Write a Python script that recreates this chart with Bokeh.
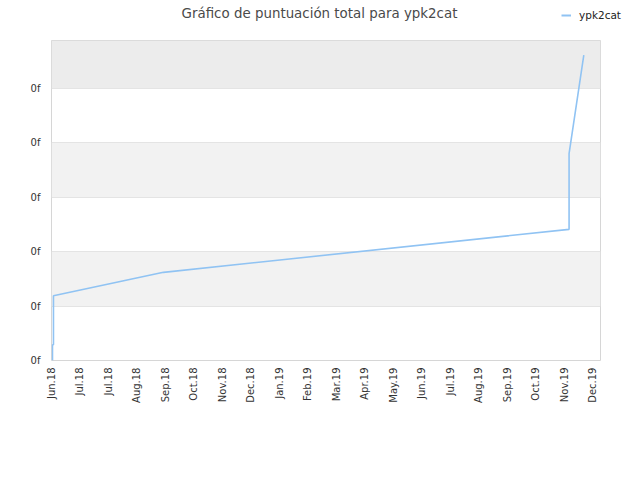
import math
import pandas as pd
from bokeh.plotting import figure
from bokeh.layouts import column, row
from bokeh.models import FixedTicker, Range1d, BoxAnnotation, Label, Legend, LegendItem
from bokeh.embed import file_html
from bokeh.resources import INLINE

title_text = "Gráfico de puntuación total para ypk2cat"
series_name = "ypk2cat"

# series
dates = ["2018-06-03", "2018-06-03", "2018-06-04", "2018-06-04",
         "2018-09-24", "2019-11-11", "2019-11-11", "2019-11-26"]
scores = [0.0, 0.29, 0.29, 1.19, 1.62, 2.41, 3.80, 5.61]

# x axis ticks
origin_date = "2018-06-02"
end_date = "2019-12-13"
tick_dates = ["2018-06-02", "2018-07-01", "2018-07-30", "2018-08-28", "2018-09-26",
              "2018-10-25", "2018-11-23", "2018-12-22", "2019-01-20", "2019-02-18",
              "2019-03-19", "2019-04-17", "2019-05-16", "2019-06-14", "2019-07-13",
              "2019-08-11", "2019-09-09", "2019-10-08", "2019-11-06", "2019-12-05"]
tick_labels = ["Jun.18", "Jul.18", "Jul.18", "Aug.18", "Sep.18", "Oct.18", "Nov.18",
               "Dec.18", "Jan.19", "Feb.19", "Mar.19", "Apr.19", "May.19", "Jun.19",
               "Jul.19", "Aug.19", "Sep.19", "Oct.19", "Nov.19", "Dec.19"]

# y axis ticks
y_ticks = [0, 1, 2, 3, 4, 5]
y_tick_labels = ["0f", "0f", "0f", "0f", "0f", "0f"]
y_max = 5.88

origin = pd.Timestamp(origin_date)
xs = [(pd.Timestamp(d) - origin).days for d in dates]
x_ticks = [(pd.Timestamp(d) - origin).days for d in tick_dates]
x_end = (pd.Timestamp(end_date) - origin).days

FONT = "DejaVu Sans"
TXT = "#333333"
LINE_COLOR = "#90c3f3"
W = 632
HEAD_H = 32
MAIN_H = 440
LEFT = 51

# ---------- header: title + legend ----------
head = figure(width=W, height=HEAD_H, output_backend="svg", toolbar_location=None,
              x_range=Range1d(0, W), y_range=Range1d(HEAD_H, 0),
              x_axis_location=None, y_axis_location=None,
              min_border=0, min_border_left=0, min_border_right=0,
              min_border_top=0, min_border_bottom=0)
head.outline_line_color = None
head.xgrid.visible = False
head.ygrid.visible = False
head.background_fill_color = "white"
head.border_fill_color = "white"

head.add_layout(Label(x=319, y=12.5, x_units="screen", y_units="data",
                      text=title_text, text_align="center", text_baseline="middle",
                      text_font=FONT, text_font_size="13.4px", text_color="#4a4a4a"))

# legend proxy: same series, drawn off-screen in the header, only its legend icon shows
legend_proxy = head.line(xs[:2], [-100, -100], line_color=LINE_COLOR, line_width=2)
legend = Legend(items=[LegendItem(label=series_name, renderers=[legend_proxy])],
                location=(561, 11), orientation="horizontal")
legend.border_line_alpha = 0
legend.background_fill_alpha = 0
legend.padding = 0
legend.margin = 0
legend.glyph_width = 10
legend.glyph_height = 12
legend.label_height = 12
legend.label_standoff = 8
legend.label_text_font = FONT
legend.label_text_font_size = "10.5px"
legend.label_text_color = "#222222"
head.add_layout(legend)

# ---------- main plot ----------
p = figure(width=W, height=MAIN_H, output_backend="svg", toolbar_location=None,
           x_range=Range1d(0, x_end), y_range=Range1d(0, y_max),
           min_border_left=LEFT, min_border_right=32, min_border_top=8,
           min_border_bottom=112)
p.outline_line_color = "#d6d6d6"
p.background_fill_color = "white"
p.border_fill_color = "white"

# alternating bands
for i, t in enumerate(y_ticks):
    if i % 2 == 1:
        top = y_ticks[i + 1] if i + 1 < len(y_ticks) else None
        color = "#f2f2f2" if top is not None else "#ececec"
        p.add_layout(BoxAnnotation(bottom=t, top=top, fill_color=color, fill_alpha=1.0,
                                   line_alpha=0, level="image"))

r = p.line(xs, scores, line_color=LINE_COLOR, line_width=1.6)

p.xgrid.visible = False
p.ygrid.grid_line_color = "#e4e4e4"

p.xaxis.ticker = FixedTicker(ticks=x_ticks)
p.xaxis.major_label_overrides = {k: v for k, v in zip(x_ticks, tick_labels)}
p.xaxis.major_label_orientation = math.pi / 2
p.yaxis.ticker = FixedTicker(ticks=y_ticks)
p.yaxis.major_label_overrides = {k: v for k, v in zip(y_ticks, y_tick_labels)}

for ax in (p.xaxis[0], p.yaxis[0]):
    ax.axis_line_color = None
    ax.major_tick_line_color = None
    ax.minor_tick_line_color = None
    ax.major_tick_out = 0
    ax.major_tick_in = 0
    ax.major_label_text_font = FONT
    ax.major_label_text_font_size = "10px"
    ax.major_label_text_color = TXT
p.xaxis.major_label_standoff = 7
p.yaxis.major_label_standoff = 11

layout = column(row(head), p, spacing=0)
open("out.html", "w").write(file_html(layout, INLINE))
